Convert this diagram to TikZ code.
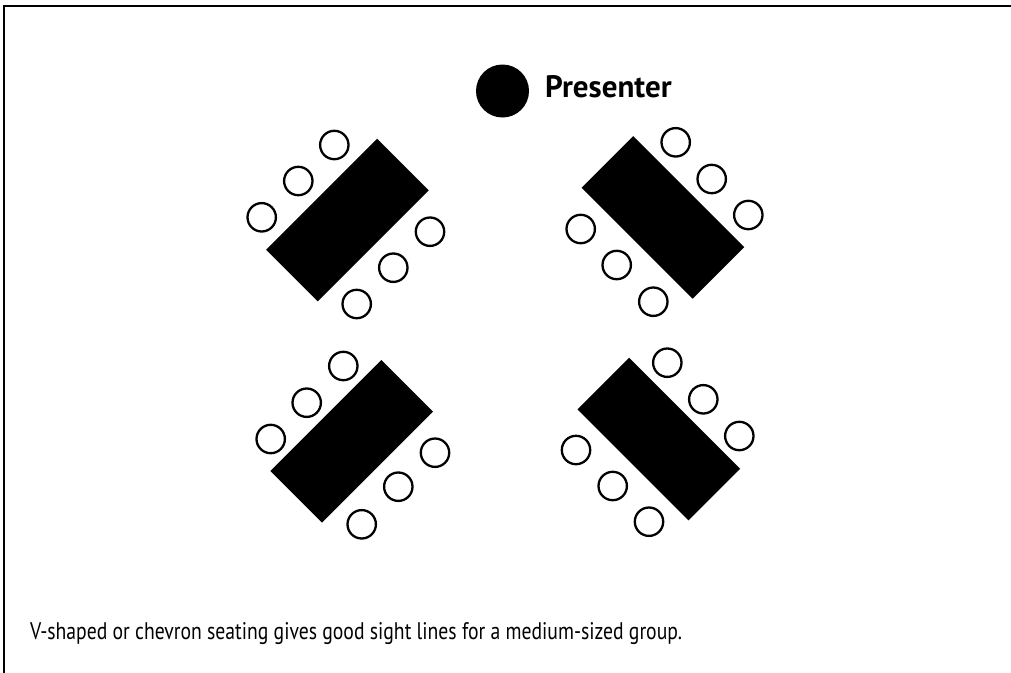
\documentclass[tikz,border=0pt]{standalone}
\usepackage{fontspec}
\newfontfamily\captionfont[FakeStretch=0.82]{PT Sans}
\newfontfamily\titlefont{PT Sans}
\begin{document}
\begin{tikzpicture}[x=1pt,y=-1pt,
  tablebox/.style={fill=black,draw=none,inner sep=0pt,outer sep=0pt,
    minimum width=157pt,minimum height=73pt,rectangle},
  chair/.style={circle,draw=black,line width=2.3pt,fill=white,
    minimum size=28.4pt,inner sep=0pt},
  frameline/.style={line width=2.5pt,line cap=rect}]
\useasboundingbox (0,0) rectangle (1011,672);
% open frame along the top and left edge
\coordinate (fb) at (4,672);
\coordinate (fc) at (4,5.8);
\coordinate (fr) at (1011,5.8);
\draw[frameline] (fb) -- (fc) -- (fr);

% presenter
\fill (502.5,91) circle (26.5pt);
\node[anchor=base west,inner sep=0pt] (presenter) at (545,97.5)
  {\titlefont\bfseries\fontsize{31}{36}\selectfont Presenter};

% tables
\node[tablebox,rotate=45]  (tl) at (347.4,220)   {};
\node[tablebox,rotate=-45] (tr) at (663,217.4)   {};
\node[tablebox,rotate=45]  (bl) at (351.7,441.3) {};
\node[tablebox,rotate=-45] (br) at (658.8,439)   {};

% chairs
\foreach \n/\x/\y in {
  tla/334.3/145, tlb/298.3/181, tlc/261.7/217.3,
  tld/430/231.7, tle/393.3/267.7, tlf/356.7/304,
  tra/675.7/142.3, trb/711.7/179, trc/748.3/215,
  trd/580.7/229, tre/616.7/265, trf/653.3/301.7,
  bla/343.3/366, blb/306.7/402.7, blc/270.7/439,
  bld/435/452.7, ble/398.3/486.7, blf/361.7/524.3,
  bra/667.3/362.7, brb/703.3/399.3, brc/739.3/436,
  brd/576/450, bre/612.7/486, brf/649/521.7}
  \node[chair] (\n) at (\x,\y) {};

% caption
\node[anchor=base west,inner sep=0pt] (caption) at (30,639.5)
  {\captionfont\fontsize{24}{28}\selectfont V-shaped or chevron seating gives good sight lines for a medium-sized group.};
\end{tikzpicture}
\end{document}
